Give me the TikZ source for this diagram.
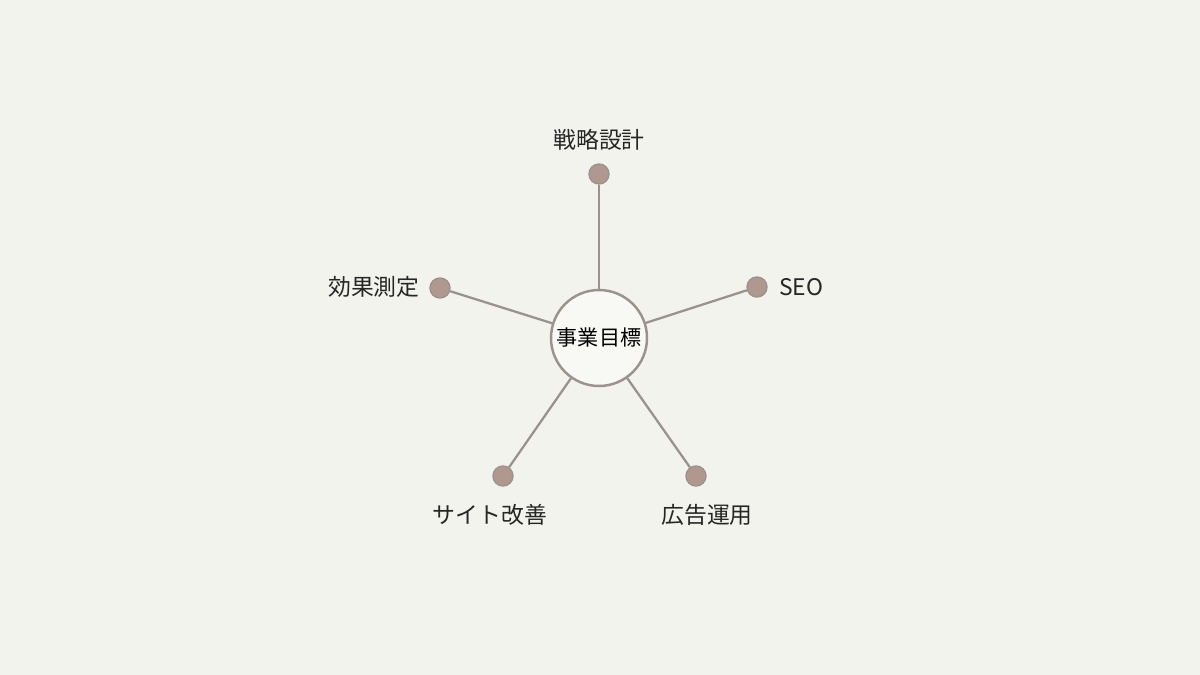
\documentclass[tikz,border=0pt]{standalone}
\usepackage{fontspec}
\setmainfont{Noto Sans CJK JP}
\usepackage{tikz}
\definecolor{bgcol}{HTML}{F3F3EE}
\definecolor{linecol}{HTML}{9B928D}
\definecolor{dotcol}{HTML}{B09890}
\tikzstyle{hub} = [circle, draw=linecol, line width=1.4pt, fill=bgcol!60!white,
    minimum size=1.92cm, inner sep=0pt, font=\fontsize{12}{14}\selectfont]
\tikzstyle{dot} = [circle, draw=linecol, line width=0.8pt, fill=dotcol,
    minimum size=0.4cm, inner sep=0pt]
\tikzstyle{label} = [font=\fontsize{13}{15}\selectfont, text=black!85, inner sep=0pt]
\tikzstyle{line} = [draw=linecol, line width=1.3pt]

\begin{document}
\begin{tikzpicture}[x=0.02cm, y=-0.02cm]
    \fill [bgcol] (0,0) rectangle (1200,675);
    \useasboundingbox (0,0) rectangle (1200,675);
    % Place nodes
    \node [hub] (goal) at (599,338) {事業目標};
    \node [dot] (top) at (599,174) {};
    \node [dot] (seo) at (757,287) {};
    \node [dot] (eval) at (440,288) {};
    \node [dot] (site) at (503,476) {};
    \node [dot] (ads) at (696,476) {};
    \node [label] at (599,140) {戦略設計};
    \node [label, anchor=west] at (779,287) {SEO};
    \node [label, anchor=east] at (420,287) {効果測定};
    \node [label] at (490,515) {サイト改善};
    \node [label] at (707,515) {広告運用};
    % Draw edges
    \path [line] (goal) -- (top);
    \path [line] (goal) -- (seo);
    \path [line] (goal) -- (eval);
    \path [line] (goal) -- (site);
    \path [line] (goal) -- (ads);
\end{tikzpicture}
\end{document}
